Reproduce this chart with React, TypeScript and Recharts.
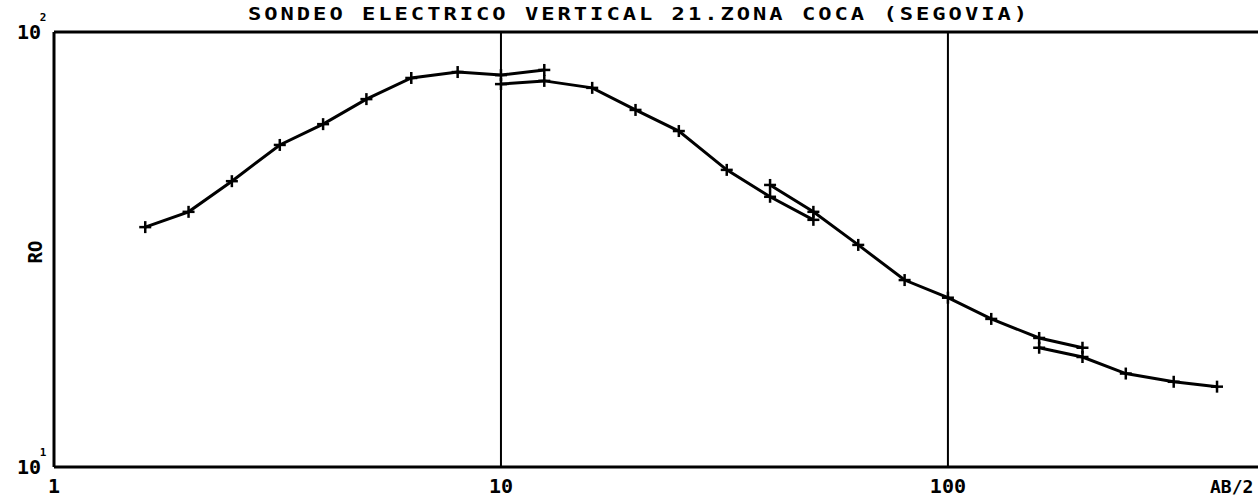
import React from "react";
import { ComposedChart, Scatter, XAxis, YAxis, ReferenceLine } from "recharts";

// AB/2 spacings (m) and apparent resistivity for each overlapping segment
const AB_1 = [1.6, 2, 2.5, 3.2, 4, 5, 6.3, 8, 10, 12.5];
const RO_1 = [35.6, 38.6, 45.4, 55.0, 61.4, 70.1, 78.4, 80.9, 79.6, 81.8];

const AB_2 = [10, 12.5, 16, 20, 25, 32, 40, 50];
const RO_2 = [75.9, 77.2, 74.4, 66.2, 59.2, 48.2, 41.8, 37.0];

const AB_3 = [40, 50, 63, 80, 100, 125, 160, 200];
const RO_3 = [44.5, 38.6, 32.4, 26.9, 24.5, 21.9, 19.8, 18.8];

const AB_4 = [160, 200, 250, 320, 400];
const RO_4 = [18.8, 17.9, 16.4, 15.7, 15.3];

const X_TICKS = [1, 10, 100];
const X_LABELS = ["1", "10", "100"];
const Y_TICKS = [10, 100];
const Y_EXP = ["1", "2"];
const GRID_X = [10, 100];

const TITLE = "SONDEO ELECTRICO VERTICAL 21.ZONA COCA (SEGOVIA)";

const toPoints = (ab: number[], ro: number[]) =>
  ab.map((x, i) => ({ ab: x, ro: ro[i] }));

const SEGMENTS = [
  toPoints(AB_1, RO_1),
  toPoints(AB_2, RO_2),
  toPoints(AB_3, RO_3),
  toPoints(AB_4, RO_4),
];

const MONO = "'DejaVu Sans Mono', monospace";

function Cross(props: any) {
  const { cx, cy } = props;
  if (cx == null || cy == null) return null;
  return (
    <g>
      <line x1={cx - 6} x2={cx + 6} y1={cy} y2={cy} stroke="#000" strokeWidth={2.5} />
      <line x1={cx} x2={cx} y1={cy - 6} y2={cy + 6} stroke="#000" strokeWidth={2.5} />
    </g>
  );
}

function XTick(props: any) {
  const { x, payload } = props;
  const i = X_TICKS.indexOf(payload.value);
  return (
    <text
      x={x}
      y={493}
      textAnchor="middle"
      fontFamily={MONO}
      fontWeight="bold"
      fontSize={20}
      fill="#000"
    >
      {X_LABELS[i]}
    </text>
  );
}

function YTick(props: any) {
  const { y, payload } = props;
  const i = Y_TICKS.indexOf(payload.value);
  return (
    <g>
      <text
        x={41}
        y={y + 7}
        textAnchor="end"
        fontFamily={MONO}
        fontWeight="bold"
        fontSize={20}
        fill="#000"
      >
        10
      </text>
      <text
        x={43}
        y={y - 11}
        textAnchor="middle"
        fontFamily={MONO}
        fontWeight="bold"
        fontSize={11}
        fill="#000"
      >
        {Y_EXP[i]}
      </text>
    </g>
  );
}

export default function App() {
  return (
    <div
      style={{
        position: "absolute",
        left: 0,
        top: 0,
        width: 1258,
        height: 497,
        background: "#fff",
        overflow: "hidden",
      }}
    >
      <ComposedChart
        width={1258}
        height={497}
        margin={{ top: 32, right: 0, bottom: 0, left: 0 }}
      >
        <XAxis
          dataKey="ab"
          type="number"
          scale="log"
          domain={[1, 494]}
          allowDataOverflow
          ticks={X_TICKS}
          tick={<XTick />}
          tickLine={false}
          axisLine={{ stroke: "#000", strokeWidth: 3 }}
          height={30}
        />
        <YAxis
          dataKey="ro"
          type="number"
          scale="log"
          domain={[10, 100]}
          allowDataOverflow
          ticks={Y_TICKS}
          tick={<YTick />}
          tickLine={false}
          axisLine={{ stroke: "#000", strokeWidth: 3 }}
          width={54}
        />
        <ReferenceLine y={100} stroke="#000" strokeWidth={3} />
        {GRID_X.map((g) => (
          <ReferenceLine key={g} x={g} stroke="#000" strokeWidth={2} />
        ))}
        {SEGMENTS.map((seg, i) => (
          <Scatter
            key={i}
            data={seg}
            line={{ stroke: "#000", strokeWidth: 3 }}
            lineType="joint"
            shape={<Cross />}
            isAnimationActive={false}
          />
        ))}
      </ComposedChart>

      <div
        style={{
          position: "absolute",
          left: 639,
          top: 4,
          transform: "translateX(-50%) scaleX(1.3)",
          whiteSpace: "nowrap",
          fontFamily: MONO,
          fontWeight: "bold",
          fontSize: 17,
          letterSpacing: 2.3,
          color: "#000",
          lineHeight: "20px",
        }}
      >
        {TITLE}
      </div>

      <div
        style={{
          position: "absolute",
          left: 1210,
          top: 477,
          whiteSpace: "nowrap",
          fontFamily: MONO,
          fontWeight: "bold",
          fontSize: 18,
          color: "#000",
          lineHeight: "20px",
        }}
      >
        AB/2
      </div>

      <div
        style={{
          position: "absolute",
          left: 35,
          top: 252,
          transform: "translate(-50%, -50%) rotate(-90deg)",
          whiteSpace: "nowrap",
          fontFamily: MONO,
          fontWeight: "bold",
          fontSize: 19,
          color: "#000",
          lineHeight: "20px",
        }}
      >
        RO
      </div>
    </div>
  );
}
